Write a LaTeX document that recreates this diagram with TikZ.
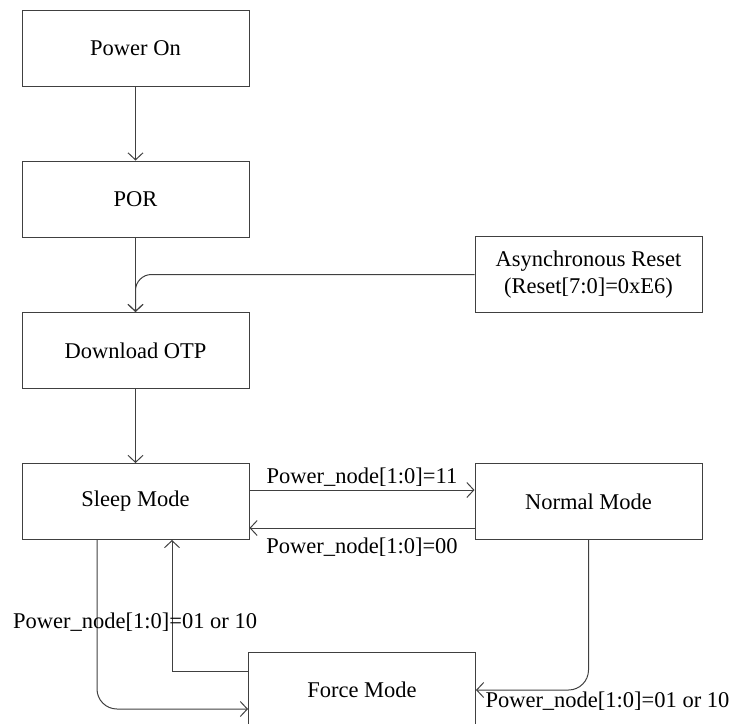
\documentclass[tikz,border=0pt]{standalone}
\usepackage{fontspec}
\setmainfont{Liberation Serif}
\usetikzlibrary{arrows.meta}
\tikzset{
	statebox/.style={draw=black!75, line width=1pt, minimum width=227pt, minimum height=76pt, inner sep=0pt, align=center, font=\fontsize{22.5}{27}\selectfont},
	trans/.style={draw=black!75, line width=1pt, -{Straight Barb[length=7pt,width=15pt]}},
	translabel/.style={font=\fontsize{22.5}{27}\selectfont, inner sep=3pt}
}
\begin{document}
\begin{tikzpicture}[x=1pt, y=-1pt]
			%%%%% START %%%%%
			\useasboundingbox (0, 0) rectangle (747, 723);
			
			\node[statebox] (poweron) at (135.5, 48) {Power On};
			\node[statebox] (por) at (135.5, 199) {POR};
			\node[statebox] (otp) at (135.5, 350.5) {Download OTP};
			\node[statebox] (sleep) at (135.5, 501.5) {Sleep Mode};
			\node[statebox] (reset) at (588.5, 274.5) {Asynchronous Reset\\(Reset[7:0]=0xE6)};
			\node[statebox] (normal) at (588.5, 501.5) {Normal Mode};
			\node[statebox] (force) at (362, 690) {Force Mode};
			
			\draw[trans] (poweron) -- (por);
			\draw[trans] (por) -- (otp);
			\draw[trans, rounded corners=16pt] (reset.west) -| (otp.north);
			\draw[trans] (otp) -- (sleep);
			
			\draw[trans] ([yshift=11.5pt]sleep.east) -- node[translabel, above] (lbl11) {Power\_node[1:0]=11} ([yshift=11.5pt]normal.west);
			\draw[trans] ([yshift=-26.5pt]normal.west) -- node[translabel, below=6pt] (lbl00) {Power\_node[1:0]=00} ([yshift=-26.5pt]sleep.east);
			
			\draw[trans, rounded corners=20pt] (normal.south) |- node[translabel, pos=1, below right, inner sep=1pt, xshift=8pt] (lblnf) {Power\_node[1:0]=01 or 10} (force.east);
			\draw[trans, rounded corners=20pt] ([xshift=-38.5pt]sleep.south) |- ([yshift=-19pt]force.west);
			\draw[trans] ([yshift=19pt]force.west) -| ([xshift=36.5pt]sleep.south);
			\node[translabel, anchor=west, inner sep=0pt] (lblsf) at (13, 622) {Power\_node[1:0]=01 or 10};
			
			%%%%% END %%%%%
\end{tikzpicture}
\end{document}
